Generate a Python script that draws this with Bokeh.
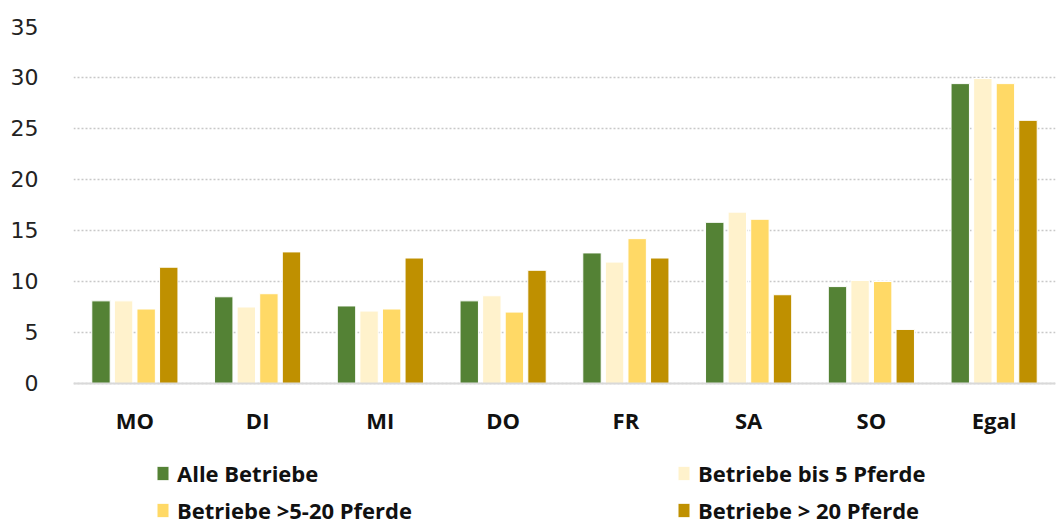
from bokeh.plotting import figure
from bokeh.models import FactorRange, Range1d, Legend, LegendItem, ColumnDataSource, Span
from bokeh.core.properties import value
from bokeh.transform import dodge
from bokeh.embed import file_html
from bokeh.resources import INLINE

days = ["MO", "DI", "MI", "DO", "FR", "SA", "SO", "Egal"]
alle = [8.1, 8.5, 7.6, 8.1, 12.8, 15.8, 9.5, 29.4]
bis5 = [8.1, 7.5, 7.1, 8.6, 11.9, 16.8, 10.1, 29.9]
mittel = [7.3, 8.8, 7.3, 7.0, 14.2, 16.1, 10.0, 29.4]
gross = [11.4, 12.9, 12.3, 11.1, 12.3, 8.7, 5.3, 25.8]
series_names = ["Alle Betriebe", "Betriebe bis 5 Pferde", "Betriebe >5-20 Pferde", "Betriebe > 20 Pferde"]
colors = ["#548235", "#FFF2CC", "#FFD966", "#BF9000"]
y_ticks = [0, 5, 10, 15, 20, 25, 30, 35]

src = ColumnDataSource(dict(day=days, alle=alle, bis5=bis5, mittel=mittel, gross=gross))

# the frame extends below zero so that the category labels and legend sit inside it
p = figure(width=1057, height=527, x_range=FactorRange(*days), y_range=Range1d(-14.12, 35),
           output_backend="svg", toolbar_location=None, x_axis_location=None,
           min_border_left=73, min_border_top=26, min_border_right=2, min_border_bottom=0)
p.outline_line_color = None

offsets = [-0.276, -0.092, 0.092, 0.276]
keys = ["alle", "bis5", "mittel", "gross"]
renderers = []
for k, off, c in zip(keys, offsets, colors):
    r = p.vbar(x=dodge("day", off, range=p.x_range), top=k, width=0.15, source=src,
               fill_color=c, line_color="white", line_width=1)
    renderers.append(r)

# baseline (x axis line)
p.add_layout(Span(location=0, dimension="width", line_color="#D9D9D9", line_width=2))

# category labels
p.text(x="day", y=-3.6, text="day", source=src, text_align="center", text_baseline="middle",
       text_font=value("Open Sans"), text_font_style="bold", text_font_size="22px",
       text_color="#111111")

p.yaxis.ticker = y_ticks
p.yaxis.axis_line_color = None
p.yaxis.major_tick_line_color = None
p.yaxis.minor_tick_line_color = None
p.yaxis.major_label_text_font = "DejaVu Sans"
p.yaxis.major_label_text_font_size = "22px"
p.yaxis.major_label_text_color = "#222222"
p.yaxis.major_label_standoff = 29

p.xgrid.grid_line_color = None
p.ygrid.ticker = y_ticks
p.ygrid.grid_line_color = "#C8C8C8"
p.ygrid.grid_line_dash = "2 2"
p.ygrid.grid_line_width = 1.5

items = [LegendItem(label=n, renderers=[r]) for n, r in zip(series_names, renderers)]
legend = Legend(items=items, orientation="horizontal", nrows=2, location=(82, 2),
                border_line_color=None, background_fill_alpha=0,
                padding=0, margin=0, spacing=7,
                glyph_width=15, glyph_height=18, label_height=24,
                label_width=492, label_standoff=7,
                label_text_font="Open Sans", label_text_font_style="bold",
                label_text_font_size="22px", label_text_color="#111111")
p.add_layout(legend, "center")

open("out.html", "w").write(file_html(p, INLINE))
